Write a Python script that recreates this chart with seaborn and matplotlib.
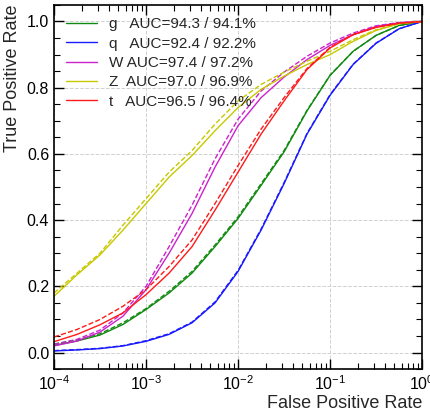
import numpy as np
import matplotlib
matplotlib.use("Agg")
import matplotlib.pyplot as plt
import seaborn as sns
from matplotlib.ticker import MultipleLocator, LogLocator, NullFormatter

# FPR sampling points (quarter decades)
fpr = [1e-4, 1.78e-4, 3.16e-4, 5.62e-4, 1e-3, 1.78e-3, 3.16e-3, 5.62e-3,
       1e-2, 1.78e-2, 3.16e-2, 5.62e-2, 1e-1, 1.78e-1, 3.16e-1, 5.62e-1, 1.0]

classes = ["g", "q", "W", "Z", "t"]
labels = ["g   AUC=94.3 / 94.1%", "q   AUC=92.4 / 92.2%", "W AUC=97.4 / 97.2%",
          "Z  AUC=97.0 / 96.9%", "t   AUC=96.5 / 96.4%"]
colors = ["#108a10", "#1a1aff", "#cc22cc", "#c8c800", "#ff1a1a"]

# solid curves
tpr_g = [0.022, 0.035, 0.053, 0.085, 0.13, 0.18, 0.24, 0.32, 0.405, 0.505, 0.606, 0.73, 0.837, 0.91, 0.958, 0.988, 1.0]
tpr_q = [0.005, 0.008, 0.012, 0.02, 0.034, 0.055, 0.09, 0.15, 0.245, 0.37, 0.51, 0.66, 0.777, 0.87, 0.934, 0.978, 1.0]
tpr_W = [0.02, 0.035, 0.062, 0.11, 0.19, 0.30, 0.42, 0.56, 0.685, 0.77, 0.832, 0.885, 0.928, 0.96, 0.985, 0.996, 1.0]
tpr_Z = [0.17, 0.235, 0.295, 0.37, 0.45, 0.53, 0.595, 0.67, 0.74, 0.795, 0.835, 0.87, 0.90, 0.94, 0.973, 0.993, 1.0]
tpr_t = [0.033, 0.055, 0.084, 0.12, 0.175, 0.24, 0.32, 0.43, 0.545, 0.66, 0.76, 0.855, 0.92, 0.96, 0.982, 0.995, 1.0]

# dashed curves
tpr_g2 = [0.026, 0.038, 0.057, 0.09, 0.133, 0.185, 0.245, 0.325, 0.41, 0.51, 0.61, 0.732, 0.838, 0.91, 0.958, 0.988, 1.0]
tpr_q2 = [0.006, 0.009, 0.013, 0.021, 0.036, 0.057, 0.092, 0.153, 0.248, 0.373, 0.513, 0.662, 0.779, 0.871, 0.935, 0.978, 1.0]
tpr_W2 = [0.025, 0.04, 0.068, 0.12, 0.20, 0.32, 0.445, 0.585, 0.705, 0.79, 0.847, 0.895, 0.935, 0.965, 0.987, 0.997, 1.0]
tpr_Z2 = [0.18, 0.24, 0.30, 0.385, 0.465, 0.545, 0.61, 0.69, 0.76, 0.81, 0.847, 0.88, 0.91, 0.945, 0.975, 0.994, 1.0]
tpr_t2 = [0.047, 0.07, 0.10, 0.14, 0.19, 0.26, 0.34, 0.45, 0.565, 0.675, 0.77, 0.858, 0.922, 0.961, 0.983, 0.995, 1.0]

solid = [tpr_g, tpr_q, tpr_W, tpr_Z, tpr_t]
dashed = [tpr_g2, tpr_q2, tpr_W2, tpr_Z2, tpr_t2]

sns.set_style("ticks")
plt.rcParams["font.family"] = ["Liberation Sans", "DejaVu Sans"]
plt.rcParams["mathtext.fontset"] = "custom"
plt.rcParams["mathtext.rm"] = "Liberation Sans"
plt.rcParams["mathtext.it"] = "Liberation Sans:italic"
plt.rcParams["xtick.minor.visible"] = True
plt.rcParams["ytick.minor.visible"] = True

fig = plt.figure(figsize=(4.31, 4.12), dpi=100)
ax = fig.add_axes([0.1253, 0.104, 0.854, 0.884])

for lab, col, ys, yd in zip(labels, colors, solid, dashed):
    sns.lineplot(x=fpr, y=ys, color=col, lw=1.0, ax=ax, label=lab)
    sns.lineplot(x=fpr, y=yd, color=col, lw=1.0, ls="--", ax=ax, legend=False)

ax.set_xscale("log")
ax.set_xlim(1e-4, 1)
ax.set_ylim(-0.05, 1.05)
ax.yaxis.set_major_locator(MultipleLocator(0.2))
ax.yaxis.set_minor_locator(MultipleLocator(0.05))
ax.xaxis.set_major_locator(LogLocator(base=10, numticks=10))
ax.xaxis.set_minor_locator(LogLocator(base=10, subs=np.arange(2, 10), numticks=100))
ax.xaxis.set_minor_formatter(NullFormatter())
ax.tick_params(which="both", direction="in", top=True, right=True,
               labelsize=11.5, color="black", labelcolor="black")
ax.tick_params(which="major", length=7, width=1)
ax.tick_params(which="minor", length=4, width=0.8)
for s in ax.spines.values():
    s.set_linewidth(1.2)
    s.set_color("black")
ax.grid(True, which="major", ls="--", color="#d0d0d0", lw=0.7)

ax.set_xlabel("False Positive Rate", loc="right", fontsize=13, labelpad=2)
ax.set_ylabel("True Positive Rate", loc="top", fontsize=13)

ax.legend(loc="upper left", frameon=False, fontsize=11, handlelength=2.0,
          labelspacing=0.35, borderaxespad=0.4)

fig.savefig("out.png", dpi=100)
